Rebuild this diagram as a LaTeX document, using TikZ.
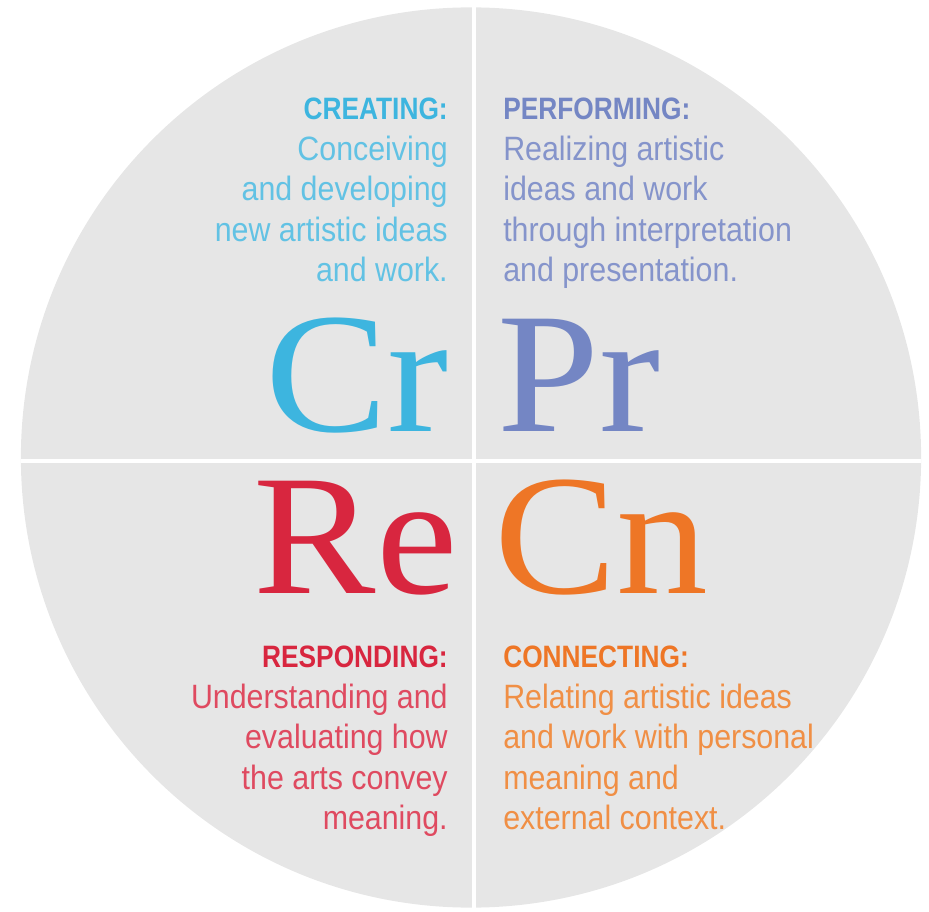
\documentclass[tikz,border=0pt]{standalone}
\usepackage{fontspec}
\setmainfont{Liberation Serif}
\newfontfamily\bigfont[FakeStretch=1.07]{Liberation Serif}
\newfontfamily\blurbfont[FakeStretch=0.9]{Liberation Sans}
\newfontfamily\headfont[FakeStretch=0.85]{Liberation Sans}
\usetikzlibrary{positioning}
\definecolor{discgray}{HTML}{E6E6E6}
\definecolor{crcyan}{HTML}{3DB5DF}
\definecolor{crlight}{HTML}{62C2E4}
\definecolor{prblue}{HTML}{7486C4}
\definecolor{prlight}{HTML}{8594CB}
\definecolor{rered}{HTML}{D8263F}
\definecolor{relight}{HTML}{DF4A60}
\definecolor{cnorange}{HTML}{EE7626}
\definecolor{cnlight}{HTML}{F08F45}
\newcommand{\blurbhead}[2]{{\headfont\fontsize{22}{28.8}\selectfont\bfseries\color{#1}#2}}
\tikzstyle{letters} = [inner sep=0, font=\bigfont\fontsize{122}{122}\selectfont]
\tikzstyle{blurb} = [inner sep=0, font=\blurbfont\fontsize{24}{28.8}\selectfont]
\tikzstyle{divider} = [draw=white, line width=0.1cm]

\begin{document}
\begin{tikzpicture}[x=0.025cm, y=-0.025cm]
	\useasboundingbox (0,0) rectangle (929,912);
	\node (Disc) [circle, fill=discgray, inner sep=0, minimum size=22.5cm] at (471,457.5) {};

	% quarter lines
	\coordinate (TopEnd) at (474,7);
	\coordinate (BottomEnd) at (474,908);
	\coordinate (LeftEnd) at (21,461);
	\coordinate (RightEnd) at (921,461);
	\draw[divider] (TopEnd) -- (BottomEnd);
	\draw[divider] (LeftEnd) -- (RightEnd);

	% creating
	\node (Cr) [letters, text=crcyan, anchor=base east] at (449,432) {Cr};
	\node (CrText) [blurb, align=right, anchor=north east, text=crlight] at (448,98)
		{\blurbhead{crcyan}{CREATING:}\\Conceiving\\and developing\\new artistic ideas\\and work.};

	% performing
	\node (Pr) [letters, text=prblue, anchor=base west] at (497,432) {Pr};
	\node (PrText) [blurb, align=left, anchor=north west, text=prlight] at (503,98)
		{\blurbhead{prblue}{PERFORMING:}\\Realizing artistic\\ideas and work\\through interpretation\\and presentation.};

	% responding
	\node (Re) [letters, text=rered, anchor=base east] at (458,593) {Re};
	\node (ReText) [blurb, align=right, anchor=north east, text=relight] at (448,646)
		{\blurbhead{rered}{RESPONDING:}\\Understanding and\\evaluating how\\the arts convey\\meaning.};

	% connecting
	\node (Cn) [letters, text=cnorange, anchor=base west] at (494,593) {Cn};
	\node (CnText) [blurb, align=left, anchor=north west, text=cnlight] at (503,646)
		{\blurbhead{cnorange}{CONNECTING:}\\Relating artistic ideas\\and work with personal\\meaning and\\external context.};
\end{tikzpicture}
\end{document}
